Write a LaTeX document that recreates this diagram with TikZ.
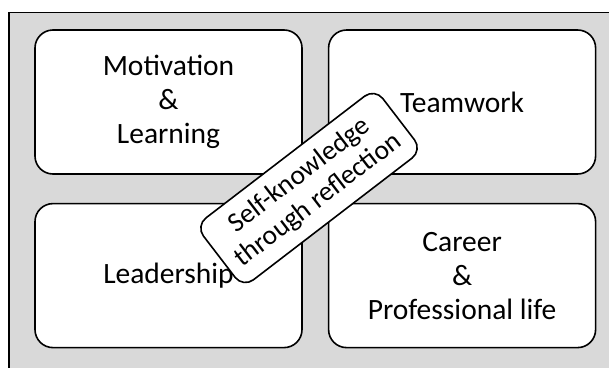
\documentclass[tikz,border=0pt]{standalone}
\usepackage{fontspec}
\setmainfont{Carlito}
\usetikzlibrary{positioning}

\begin{document}
\begin{tikzpicture}[
    x=1pt, y=-1pt,
    area/.style={rounded corners=18pt, draw, line width=1.6pt, fill=white,
        minimum width=267pt, minimum height=144pt, align=center,
        font=\fontsize{29.5}{34}\selectfont},
    reflect/.style={rounded corners=13pt, draw, line width=1.6pt, fill=white,
        minimum width=226pt, minimum height=78pt, align=center, rotate=37.5,
        font=\fontsize{27.5}{31}\selectfont}
]
\useasboundingbox (0,0) rectangle (609,367);
\clip (0,0) rectangle (609,367);

% Grey frame (cut off at right and bottom)
\draw[fill=black!15, line width=1.6pt] (9,12.5) rectangle (630,390);

% The four areas
\node[area] (motiv) at (168.5,102) {Motivation\\\&\\Learning};
\node[area, right=25pt of motiv] (team) {Teamwork};
\node[area, below=28pt of motiv] (lead) {Leadership};
\node[area, below=28pt of team] (career) {Career\\\&\\Professional life};

% Tilted label across the middle
\node[reflect] (selfref) at (309,188) {Self-knowledge\\through reflection};

\end{tikzpicture}
\end{document}
